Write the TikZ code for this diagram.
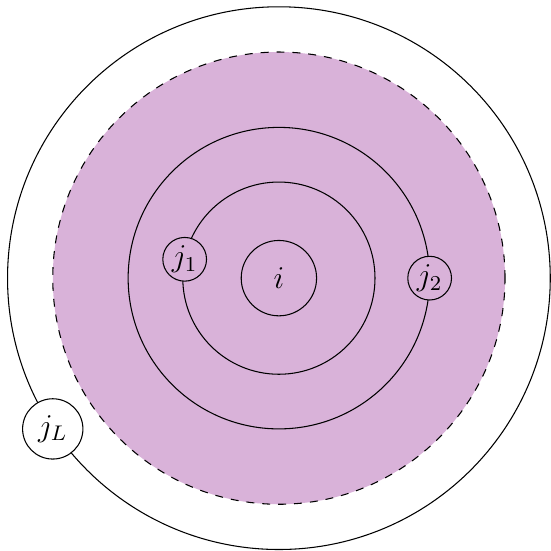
\documentclass[tikz,border=0pt]{standalone}
\usepackage{xcolor}
\begin{document}
\begin{tikzpicture}[
  every node/.style={font=\large},
  ringline/.style={draw=black, line width=0.4pt},
  jnode/.style={circle, draw=black, line width=0.4pt, inner sep=0pt, minimum size=0.58cm, fill=violet!30},
  jLnode/.style={circle, draw=black, line width=0.4pt, inner sep=0pt, minimum size=0.8cm, fill=white}
]
\useasboundingbox (-3.70,-3.61) rectangle (3.61,3.69);
\fill[violet!30] (0,0) circle [radius=3];
\draw[dashed] (0,0) circle [radius=3];
\draw[ringline] (0,0) circle [radius=3.6];
\draw[ringline] (0,0) circle [radius=2];
\draw[ringline] (0,0) circle [radius=1.275];
\node[circle, draw=black, line width=0.4pt, minimum size=1cm, inner sep=0pt] (i) at (0,0) {$i$};
\node[jnode] (j1) at (-1.25,0.25) {$j_1$};
\node[jnode] (j2) at (2,0) {$j_2$};
\node[jLnode] (jL) at (-3,-2) {$j_L$};
\end{tikzpicture}
\end{document}
